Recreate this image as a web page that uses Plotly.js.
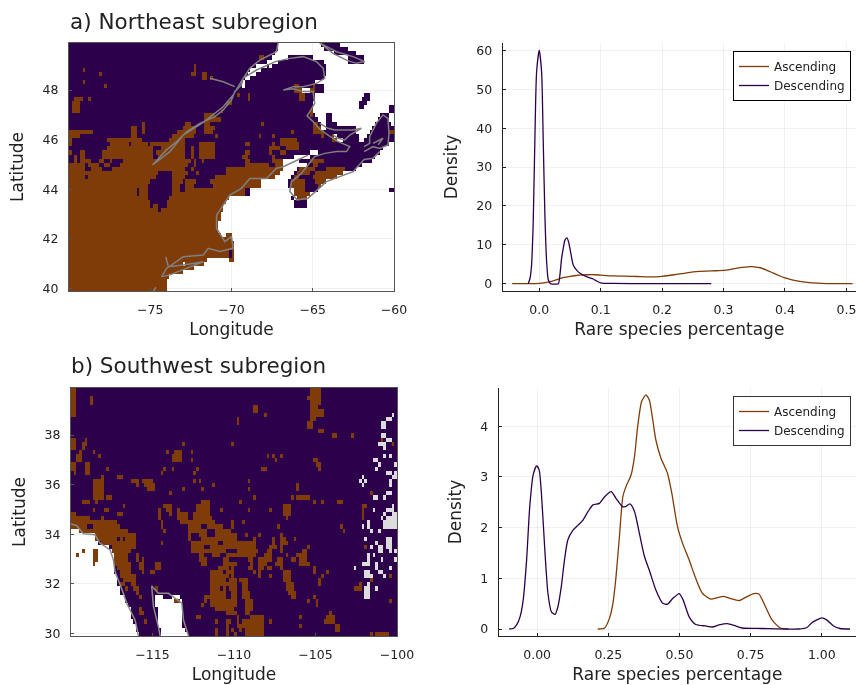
<!DOCTYPE html>
<html><head><meta charset="utf-8">
<script src="https://cdn.plot.ly/plotly-3.0.1.min.js"></script>
<style>html,body{margin:0;padding:0;background:#fff}#c{width:857px;height:685px;filter:blur(0.35px)}</style>
</head><body><div id="c"></div>
<script>
// Map cells: one string per grid row (north to south); each "a-b" is a half-open column run.
const neAscending = ["","","","70-72","","46-47","5-6 46-47","11-12 45-47 49-51 68-69","49-51 52-53 65-66","5-6 64-65",
"13-14 83-85 90-91","83-86 89-91","62-63 66-67 85-87","2-5 7-8 66-67 85-87","1-4 58-60","1-4","1-4 56-57 89-90","50-54 89-90","50-56","27-28 43-45 50-52 71-72 90-92",
"23-25 27-28 42-47 50-54 90-93","0-9 23-25 27-28 40-47 50-53 82-83 90-94 118-120","0-4 23-25 38-46 54-55 70-71 75-76 93-94 97-99","0-1 14-27 37-43 78-84 97-99","0-1 15-22 23-29 30-43 48-54 65-67 75-76 78-85","14-31 34-43 45-46 48-54 74-78 80-85","0-1 4-6 12-31 32-43 45-46 48-54 65-67 74-75 78-80","2-3 4-6 12-31 33-43 45-46 48-54 64-66 75-76","2-3 4-8 11-13 15-16 20-45 46-47 49-50 65-67 75-79 89-94","0-6 7-11 13-15 19-44 46-47 65-74 76-79 90-92",
"0-6 8-12 16-43 45-46 58-79 85-91 95-102","0-33 38-44 47-48 58-78 84-89 91-101","0-6 7-32 38-43 54-76 83-85 90-99","0-30 38-42 43-47 52-71 82-87 91-95","0-29 38-41 43-46 53-71 82-87 92-93","0-25 26-29 38-41 43-65 83-87","0-25 26-29 38-65 83-89","0-29 37-59 84-88","0-30 36-58","0-30 31-33 36-57",
"0-33 34-57","0-56","0-56","0-55","0-55","0-55","0-60","0-60","0-61","0-61",
"0-59 60-61","0-59 60-61","0-61","0-50","0-46","0-42","0-37","0-36","0-36","0-36"];
const neMissing = ["77-93 100-120","77-94 103-120","76-98 106-120","75-81 90-103 109-120","73-77 94-103 109-120","69-73 74-75 95-120","67-71 95-120","66-69 95-120","65-67 94-120","64-65 91-120",
"64-65 94-120","86-89 94-120","91-109 111-120","91-108 111-120","90-107 110-120","90-107 109-118","90-118","91-95 97-115 118-120","92-95 97-114 118-120","93-95 99-113 119-120",
"93-95 106-112","106-111","98-99 107-110","99-101 107-109","118-120","116-120","89-92 115-120","83-89 113-120","79-85 112-120","79-88 108-120",
"79-84 106-120","78-83 101-120","76-82 99-120","71-81 95-120","71-81 93-120","67-83 92-118","67-83 89-120","59-82 83-84 88-120","58-83 88-120","57-83 88-120",
"57-120","56-120","56-120","55-120","55-120","55-120","56-58 60-120","60-120","61-120","61-120",
"61-120","61-120","51-59 61-120","42-43 50-120","46-120","42-120","37-120","36-120","36-120","36-120"];

const swAscending = ["0-2 88-92","0-2 88-92","0-2 7-8 87-92","0-2 7-8 88-92","0-2 67-69 88-91","0-2 67-69 88-93","0-2 71-72 88-93","61-62 88-90","61-62 87-89","87-89",
"91-93","96-98 103-104","0-2 5-6 114-115","0-2 4-6 41-42 59-60 118-119","0-2 4-5","3-4 8-9 35-36 38-41 44-45","2-4 10-11 37-41 72-73 74-75 77-78","2-4 37-41 44-45 75-76 89-91","0-2 5-7 90-92","0-2 5-7 13-14 34-35 37-38 46-47 70-72 91-92",
"1-2 5-7 33-34 45-46","11-12 17-19","8-12 22-25 26-30 45-46 47-48 65-66","8-12 24-25 27-31 52-53 83-84","8-12 28-31 41-42 48-49 65-66 83-84","8-12 36-37 110-111","8-12 13-15 67-68 81-82 83-88","4-7 9-10 48-51 62-63 89-90 92-93 98-100","19-20 34-37 46-51 78-81 107-109","8-9 12-14 32-33 35-37 39-40 46-51 55-56 65-66 73-74 78-81 107-108",
"0-2 17-19 32-33 36-37 39-43 45-51 78-81 107-108","0-7 11-12 32-33 39-43 45-52 79-80 107-108","0-17 33-34 40-53 59-60 63-64","0-6 8-18 33-34 43-47 47-48 50-56 59-60 76-77 99-100","3-21 34-35 43-50 53-59 100-101","9-24 43-44 47-50 53-61 64-65 69-70 77-78","9-17 18-19 20-24 43-44 48-61 67-68 74-75 77-79 82-83","11-24 33-34 44-54 56-68 74-75 77-80","15-24 44-49 51-68 73-76 77-78 87-88 108-109","4-5 8-10 15-22 44-57 61-69 72-74 77-78 85-87",
"2-3 8-10 16-21 24-25 47-49 52-55 57-68 71-74 79-80 83-87","8-10 16-21 24-25 26-27 47-50 56-58 65-67 69-74 76-78 81-83 84-87","8-9 16-22 25-27 31-33 48-50 56-61 66-67 69-72 75-78 84-88","17-22 25-27 31-33 54-58 59-60 65-67 69-71 72-74 77-78 89-90","18-22 26-27 29-31 51-56 57-60 67-68 69-70 78-81 89-90 94-95","18-24 51-58 59-60 69-70 73-74 78-81 92-93 117-118","19-24 51-57 58-61 62-65 78-81 91-92 110-111","18-20 22-24 51-61 63-65 79-82 91-92 106-107","20-21 23-25 31-32 51-55 56-57 58-61 63-65 79-82 104-107","24-25 51-57 59-61 63-66 80-83",
"25-26 38-40 49-57 59-61 63-66 81-83 89-90","38-40 49-50 51-61 64-67 87-88 90-91 117-118","48-49 51-61 64-67 90-91","25-26 53-60 64-67","25-27 57-61 64-66 95-96","46-48 61-62 66-71 84-85 94-97","27-28 53-54 57-59 61-62 63-71 73-74 93-97","57-58 61-71 84-85 97-99","53-54 57-58 59-60 62-63 64-71 97-99","53-54 57-58 60-61 64-71 110-111 112-117"];
const swMiddle = ["","","","","","","118-119","116-118","114-116","114-116",
"","114-116","116-118","113-116","115-116","","115-116 117-118","111-113","113-114 119-120","112-113",
"116-118 119-120","107-108 118-120","106-107 108-109 117-118","107-108 117-118","","116-118","111-113 115-116","","118-119","111-112 116-119",
"115-116 118-120","114-115 116-120","109-110 115-120","107-108 109-110 115-120","110-111 113-114","","108-109 116-118","112-113 116-118","110-111 113-115 116-118","113-115 117-118 119-120",
"109-110 111-112","109-110 114-115 119-120","107-110 112-113","104-105 112-113 117-118","108-110 113-115","108-111 115-116","","109-110","108-110 112-113","108-110",
"108-110","","","","","","","","",""];
const swMissing = ["","","","","","","","","","",
"","","","","","","","","","",
"","","","","","","","","","",
"","","","","0-3","0-9","0-9","0-10","0-14","0-4 5-8 10-15",
"0-2 3-8 10-16","0-8 10-16","0-8 9-16","0-16","0-16","0-17","0-17","0-17","0-18","0-18",
"0-20 31-34 37-40","0-20 31-38 40-41","0-21 31-41","0-22 32-41","0-22 32-41","0-22 32-41","0-23 32-41","0-24 32-41","0-24 33-42","0-25 33-43"];

// Coastlines, longitude / latitude, null breaks a stroke.
const neCoastLon = [-67.13,-67.23,-68.26,-68.87,-69.28,-69.39,-69.8,-70,-70.51,-71.02,-71.95,-72.77,-73.38,-74,-74.86,-73.79,-72.97,-71.74,-70.51,-69.9,-69.28,-68.46,-67.3,-66.41,-65.59,-64.77,-64.36,-64.26,-64.77,-65.59,-66.21,-66.82,-66.21,-65.59,-64.98,-64.88,-65.18,-65.35,-64.98,-64.57,-64.06,-63.44,-62.72,-62.93,-63.54,-64.26,-64.88,-65.29,-65.7,-66.31,-66.41,-65.96,-65.29,-64.16,-62.52,-61.84,-61.29,-60.88,null,
-61.84,-61.5,-61.5,-61.09,-60.68,-60.37,-60.31,-60.37,-60.88,-61.29,-61.84,null,-61.29,-60.68,-60.98,null,
-65.29,-66.82,-67.23,-67.85,-68.87,-69.39,-70.1,-70.51,-70.92,-70.92,-70.41,-70,-69.9,-70.72,-71.43,-71.74,-72.97,-74,-74.3,-73.79,-72.56,-71.74,-72.97,-73.89,-74.04,null,
-64.57,-63.54,-62.52,-61.8,-62.32,-62.93,-63.75,-64.57,null,-71.33,-70.51,-69.8,null,-64.57,-64.06,-63.65,-62.52,-62.01,-62.72,-63.03,-63.44,-63.75,null,-74.8,-74.65];
const neCoastLat = [49.9,49.55,49.21,48.88,48.48,48.21,47.94,47.6,47.2,46.93,46.66,46.32,45.92,45.59,44.98,45.52,46.19,46.7,47.33,47.8,48.48,48.81,49.15,49.28,49.35,49.15,48.88,48.48,48.27,48.14,48.14,48,48.05,47.94,47.94,47.47,47.13,46.96,46.73,46.42,46.19,45.92,45.72,45.52,45.52,45.45,45.32,44.98,44.64,44.31,43.91,43.57,43.64,44.31,44.71,45.2,45.25,45.52,null,
45.72,45.85,46.12,46.66,47,46.86,46.26,45.79,45.65,45.72,45.52,null,45.85,46.06,45.79,null,
45.38,44.91,44.85,44.44,44.44,44.04,43.77,43.37,42.96,42.43,41.89,42.09,41.62,41.49,41.62,41.35,41.28,40.81,40.48,40.55,40.88,41.08,40.95,40.88,41.28,null,
49.9,49.55,49.35,49.15,49.08,49.21,49.48,49.9,null,48.48,48.34,48.14,null,46.66,46.46,46.39,46.39,46.46,46.19,45.99,46.06,46.19,null,39.9,40.05];
const swCoastLon = [-120,-119.65,-119.24,-118.53,-118.22,-117.6,-117.4,-117.3,-116.79,-116.58,-116.07,-115.86,null,-115.05,-114.64,-114.02,-113.2,-113.1,-112.79,null,-115.05,-114.94,-114.64,-114.53];
const swCoastLat = [34.42,34.35,34.02,33.98,33.64,33.37,32.97,32.5,31.62,31.22,30.55,29.9,null,31.92,31.62,31.62,31.22,30.55,29.9,null,31.92,31.08,30.28,29.9];

// Density curves
const neAscX = [-0.044,-0.02,0,0.01,0.02,0.03,0.04,0.05,0.06,0.07,0.08,0.09,0.1,0.12,0.14,0.16,0.18,0.2,0.22,0.24,0.26,0.28,0.3,0.31,0.32,0.33,0.34,0.35,0.36,0.37,0.38,0.39,0.4,0.41,0.42,0.43,0.44,0.46,0.48,0.51];
const neAscY = [0,0.02,0.1,0.3,0.6,1.1,1.6,1.9,2.1,2.25,2.3,2.3,2.2,2,1.95,1.85,1.75,1.9,2.3,2.8,3.15,3.3,3.4,3.6,3.95,4.2,4.35,4.35,4.1,3.5,2.8,2.1,1.5,1.05,0.7,0.45,0.25,0.08,0.02,0];
const neDesX = [-0.018,-0.015,-0.0125,-0.0098,-0.007,-0.0043,0,0.0038,0.0065,0.0092,0.012,0.0147,0.0184,0.031,0.0336,0.0364,0.039,0.0418,0.045,0.0477,0.051,0.0553,0.0608,0.0662,0.077,0.088,0.0933,0.1015,0.12,0.175,0.28];
const neDesY = [0,1.4,4.8,16,38,54.5,60,54.5,36.5,17.6,5.7,1,0,0,2.2,6.5,9,11.2,11.8,10.8,8.2,4.8,3.5,2.7,1.8,1.2,0.7,0.15,0.08,0,0];
const swAscX = [0.213,0.237,0.254,0.266,0.277,0.289,0.301,0.312,0.33,0.342,0.353,0.367,0.382,0.394,0.406,0.417,0.435,0.458,0.473,0.493,0.511,0.534,0.557,0.581,0.61,0.633,0.656,0.68,0.709,0.732,0.761,0.779,0.802,0.825,0.854,0.883];
const swAscY = [0,0.02,0.21,0.5,1.03,1.82,2.61,2.81,3.04,3.4,3.99,4.49,4.62,4.52,4.13,3.73,3.37,3.07,2.68,2.02,1.69,1.36,1,0.7,0.59,0.62,0.645,0.6,0.56,0.625,0.7,0.69,0.44,0.18,0.02,0];
const swDesX = [-0.098,-0.084,-0.072,-0.06,-0.049,-0.037,-0.026,-0.014,-0.002,0.007,0.015,0.027,0.038,0.05,0.063,0.073,0.085,0.096,0.108,0.126,0.144,0.161,0.179,0.196,0.219,0.237,0.26,0.277,0.301,0.312,0.326,0.342,0.359,0.377,0.394,0.417,0.441,0.458,0.476,0.499,0.513,0.534,0.557,0.592,0.615,0.639,0.668,0.697,0.72,0.79,0.919,0.948,0.965,1,1.017,1.041,1.064,1.099];
const swDesY = [0,0.01,0.08,0.24,0.57,1.36,2.41,3.04,3.22,3.14,2.68,1.56,0.7,0.34,0.29,0.44,0.84,1.36,1.76,1.95,2.05,2.15,2.32,2.45,2.48,2.61,2.71,2.58,2.41,2.42,2.47,2.32,1.89,1.43,1.16,0.77,0.51,0.49,0.6,0.7,0.57,0.24,0.09,0.06,0.04,0.08,0.105,0.06,0.02,0.01,0,0.03,0.125,0.22,0.18,0.06,0.01,0];

const seriesNames = ["Ascending","Descending"];
const ascColor = "#7f3b08", desColor = "#2d004b";
const W = 857, H = 685, NCOL = 120, NROW = 60;

function paint(grid, rows, value){
  rows.forEach((s,r)=>{ if(!s) return; s.split(" ").forEach(run=>{
    const [a,b]=run.split("-").map(Number);
    for(let c=a;c<b;c++) grid[r][c]=value; }); });
}
function buildGrid(asc, mid, missing){
  const g=[]; for(let r=0;r<NROW;r++){ g.push(new Array(NCOL).fill(0)); }
  paint(g,asc,2); if(mid) paint(g,mid,1); paint(g,missing,null); return g;
}
function centers(start,n,step){ const o=[]; for(let i=0;i<n;i++) o.push(start+(i+0.5)*step); return o; }

const dx=v=>[v[0]/W,v[1]/W], dy=v=>[1-v[1]/H,1-v[0]/H];
const scale=[[0,desColor],[0.5,"#dcdcdc"],[1,ascColor]];
const heat=(z,x,y,xa,ya)=>({type:"heatmap",z,x,y,xaxis:xa,yaxis:ya,colorscale:scale,zmin:0,zmax:2,showscale:false,hoverinfo:"skip"});
const coast=(x,y,xa,ya,color)=>({type:"scatter",mode:"lines",x,y,xaxis:xa,yaxis:ya,line:{color,width:1.5},connectgaps:false,showlegend:false,hoverinfo:"skip"});
const kde=(x,y,xa,ya,color,name,leg)=>({type:"scatter",mode:"lines",x,y,xaxis:xa,yaxis:ya,name,legend:leg,line:{color,width:1.3,shape:"spline",smoothing:0.6},hoverinfo:"skip"});

const data=[
 heat(buildGrid(neAscending,null,neMissing),centers(-80,NCOL,1/6),centers(39.9,NROW,1/6).reverse(),"x","y"),
 coast(neCoastLon,neCoastLat,"x","y","#808080"),
 heat(buildGrid(swAscending,swMiddle,swMissing),centers(-120,NCOL,1/6),centers(29.9,NROW,1/6).reverse(),"x3","y3"),
 coast(swCoastLon,swCoastLat,"x3","y3","#8c8c8c"),
 kde(neAscX,neAscY,"x2","y2",ascColor,seriesNames[0],"legend"),
 kde(neDesX,neDesY,"x2","y2",desColor,seriesNames[1],"legend"),
 kde(swAscX,swAscY,"x4","y4",ascColor,seriesNames[0],"legend2"),
 kde(swDesX,swDesY,"x4","y4",desColor,seriesNames[1],"legend2")
];

const txt="#222";
const tickF={family:"DejaVu Sans",size:12.5,color:txt}, titleF={family:"DejaVu Sans",size:17,color:txt};
const grid="rgba(0,0,0,0.06)";
const mapAxis=(domain,range,vals,title,anchor,standoff,lab)=>({domain,range,anchor,tickmode:"array",tickvals:vals,ticks:"inside",ticklen:3,tickcolor:"#555",
  showline:true,mirror:true,linecolor:"#555",linewidth:1,showgrid:true,gridcolor:grid,zeroline:false,tickfont:tickF,ticklabelstandoff:lab,
  title:{text:title,font:titleF,standoff}});
const kdeAxis=(domain,range,vals,text,title,anchor,standoff,lab)=>({domain,range,anchor,tickmode:"array",tickvals:vals,ticktext:text,ticks:"inside",ticklen:3,tickcolor:"#222",
  showline:true,mirror:false,linecolor:"#222",linewidth:1,showgrid:true,gridcolor:grid,zeroline:false,tickfont:tickF,ticklabelstandoff:lab,
  title:{text:title,font:titleF,standoff}});
const legendBox=(x,y,border)=>({x:x/W,y:1-y/H,xanchor:"right",yanchor:"top",bgcolor:"#fff",bordercolor:border,borderwidth:1,
  font:{family:"DejaVu Sans",size:12,color:txt},itemwidth:30,tracegroupgap:0});
const label=(text,x,y)=>({text,xref:"paper",yref:"paper",x:x/W,y:1-y/H,xanchor:"left",yanchor:"middle",showarrow:false,font:{family:"DejaVu Sans",size:21.5,color:txt}});

const layout={
 width:W,height:H,margin:{l:0,r:0,t:0,b:0},paper_bgcolor:"#fff",plot_bgcolor:"#fff",
 xaxis:mapAxis(dx([69,394]),[-80,-60],[-75,-70,-65,-60],"Longitude","y",7,7),
 yaxis:mapAxis(dy([43,291]),[39.9,49.9],[40,42,44,46,48],"Latitude","x",14,7),
 xaxis2:kdeAxis(dx([502.7,856]),[-0.0595,0.5156],[0,0.1,0.2,0.3,0.4,0.5],["0.0","0.1","0.2","0.3","0.4","0.5"],"Rare species percentage","y2",7,7),
 yaxis2:kdeAxis(dy([43,291]),[-1.88,61.9],[0,10,20,30,40,50,60],["0","10","20","30","40","50","60"],"Density","x2",14,7),
 xaxis3:mapAxis(dx([71,397]),[-120,-100],[-115,-110,-105,-100],"Longitude","y3",7,7),
 yaxis3:mapAxis(dy([388,636]),[29.9,39.9],[30,32,34,36,38],"Latitude","x3",14,7),
 xaxis4:kdeAxis(dx([498.7,856]),[-0.135,1.12],[0,0.25,0.5,0.75,1],["0.00","0.25","0.50","0.75","1.00"],"Rare species percentage","y4",7,7),
 yaxis4:kdeAxis(dy([388,636]),[-0.138,4.756],[0,1,2,3,4],["0","1","2","3","4"],"Density","x4",14,7),
 legend:legendBox(851,51,"#000"),
 legend2:legendBox(851,396,"#333"),
 annotations:[label("a) Northeast subregion",68,21),label("b) Southwest subregion",69,366)]
};
Plotly.newPlot("c",data,layout,{staticPlot:true,displayModeBar:false});
</script></body></html>
